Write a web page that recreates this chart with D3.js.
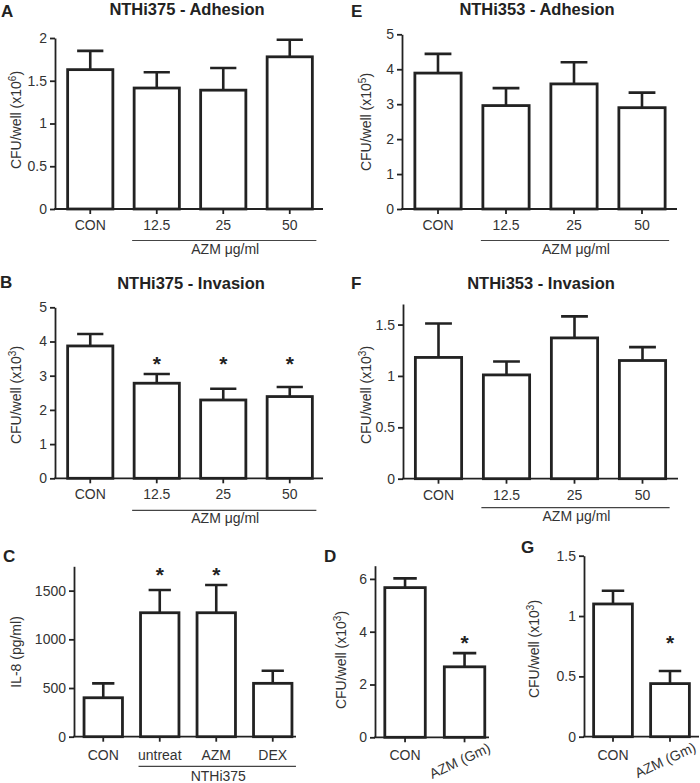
<!DOCTYPE html>
<html>
<head>
<meta charset="utf-8">
<script src="https://cdnjs.cloudflare.com/ajax/libs/d3/7.8.5/d3.min.js"></script>
<style>
  body { margin: 0; background: #fff; }
  svg text { font-family: "Liberation Sans", Arial, Helvetica, sans-serif; fill: #333; }
</style>
</head>
<body>
<div id="fig"></div>
<script>
// --- data (mean, and SEM as the upper error bar) ---
var doseCats = ["CON", "12.5", "25", "50"];
var adh375Mean = [1.63, 1.415, 1.39, 1.78];
var adh375Sem  = [0.22, 0.185, 0.26, 0.20];
var inv375Mean = [3.87, 2.78, 2.29, 2.39];
var inv375Sem  = [0.35, 0.27, 0.33, 0.28];
var inv375Sig  = [false, true, true, true];
var adh353Mean = [3.89, 2.96, 3.58, 2.90];
var adh353Sem  = [0.55, 0.50, 0.62, 0.43];
var inv353Mean = [1.18, 1.01, 1.37, 1.15];
var inv353Sem  = [0.33, 0.13, 0.21, 0.13];

var il8Cats = ["CON", "untreat", "AZM", "DEX"];
var il8Mean = [400, 1273, 1273, 548];
var il8Sem  = [148, 234, 285, 130];
var il8Sig  = [false, true, true, false];

var gmCats = ["CON", "AZM (Gm)"];
var gm375Mean = [5.67, 2.67];
var gm375Sem  = [0.35, 0.52];
var gm353Mean = [1.10, 0.44];
var gm353Sem  = [0.11, 0.105];
var gmSig = [false, true];

var ticks0to2 = [0, 0.5, 1, 1.5, 2];
var ticks0to5 = [0, 1, 2, 3, 4, 5];
var ticks0to15 = [0, 0.5, 1, 1.5];
var ticksIL8 = [0, 500, 1000, 1500];
var ticks0to6 = [0, 2, 4, 6];

var svg = d3.select("#fig")
    .append("svg")
      .attr("width", 700)
      .attr("height", 783);

var ink = "#222";
var fs = 14;

function panel(p) {
    var g = svg.append("g");
    var x = d3.scaleBand()
        .domain(p.cats)
        .range(p.band)
        .paddingInner(0.32)
        .paddingOuter(0.16);
    var y = d3.scaleLinear()
        .domain([0, p.max])
        .range([p.y0, p.yTop]);
    var bw = x.bandwidth();
    var rows = p.cats.map((c, i) => ({cat: c, mean: p.mean[i], sem: p.sem[i], sig: p.sig ? p.sig[i] : false}));

    // y axis
    var ya = g.append("g")
        .attr("transform", "translate(" + p.x0 + ",0)")
        .call(d3.axisLeft(y).tickValues(p.ticks).tickSize(5).tickSizeOuter(0)
              .tickPadding(3).tickFormat(d3.format("~g")));
    ya.attr("font-family", null);
    ya.selectAll("text").style("font-size", fs + "px");
    ya.selectAll("path, line").attr("stroke", ink).attr("stroke-width", 1.8);

    // x axis line + ticks
    g.append("line")
        .attr("x1", p.x0 - 0.9).attr("x2", p.x1)
        .attr("y1", p.y0).attr("y2", p.y0)
        .attr("stroke", ink).attr("stroke-width", 1.8);
    var xa = g.append("g")
        .attr("transform", "translate(0," + p.y0 + ")")
        .call(d3.axisBottom(x).tickSize(5).tickSizeOuter(0).tickPadding(p.xpad));
    xa.select(".domain").remove();
    xa.attr("font-family", null);
    xa.selectAll("text").style("font-size", fs + "px");
    xa.selectAll("line").attr("stroke", ink).attr("stroke-width", 1.8);
    if (p.rotate) {
        xa.selectAll(".tick text")
          .filter((d, i) => i == p.cats.length - 1)
          .attr("y", null).attr("dy", null)
          .attr("text-anchor", "end")
          .attr("transform", "translate(27,14) rotate(-25)");
    }

    // error bars (upper only), drawn under the bars
    g.selectAll(".err")
        .data(rows)
        .enter().append("path")
        .attr("class", "err")
        .attr("d", d => {
            var cx = x(d.cat) + bw / 2, yt = y(d.mean + d.sem), c = bw * 0.29;
            return "M" + cx + "," + y(d.mean) + "V" + yt + "M" + (cx - c) + "," + yt + "H" + (cx + c);
        })
        .attr("fill", "none")
        .attr("stroke", ink)
        .attr("stroke-width", 2.6);

    g.selectAll(".bar")
        .data(rows)
        .enter().append("rect")
        .attr("class", "bar")
        .attr("x", d => x(d.cat))
        .attr("y", d => y(d.mean))
        .attr("width", bw)
        .attr("height", d => p.y0 - y(d.mean))
        .attr("fill", "#fff")
        .attr("stroke", ink)
        .attr("stroke-width", 2.8);

    // significance stars on one level above the tallest starred bar
    var starred = rows.filter(d => d.sig);
    if (starred.length) {
        var sy = d3.min(starred, d => y(d.mean + d.sem)) - p.starGap;
        g.selectAll(".star")
            .data(starred)
            .enter().append("text")
            .attr("x", d => x(d.cat) + bw / 2)
            .attr("y", sy + 12)
            .attr("text-anchor", "middle")
            .style("font-size", "21px")
            .style("font-weight", "bold")
            .style("fill", "#222")
            .text("*");
    }

    // group bracket under treated columns
    if (p.bracket) {
        var first = p.cats[1], last = p.cats[p.cats.length - 1];
        var by = p.y0 + p.bOff;
        g.append("line")
            .attr("x1", x(first) - 2).attr("x2", x(last) + bw + 4)
            .attr("y1", by).attr("y2", by)
            .attr("stroke", "#444").attr("stroke-width", 1.2);
        g.append("text")
            .attr("x", (x(first) + x(last) + bw) / 2 + 2)
            .attr("y", by + p.bText)
            .attr("text-anchor", "middle")
            .style("font-size", fs + "px")
            .text(p.bracket);
    }

    // y label
    var yl = g.append("text")
        .attr("transform", "translate(" + p.ylx + "," + p.yly + ") rotate(-90)")
        .attr("text-anchor", "middle")
        .style("font-size", fs + "px");
    if (p.sup) {
        yl.append("tspan").text(p.ylab);
        yl.append("tspan").attr("dy", -5.5).style("font-size", "10px").text(p.sup);
        yl.append("tspan").attr("dy", 5.5).text(")");
    } else {
        yl.text(p.ylab);
    }

    if (p.title) {
        g.append("text")
            .attr("x", p.tx).attr("y", p.ty)
            .attr("text-anchor", "middle")
            .style("font-size", "16.5px")
            .style("font-weight", "bold")
            .style("fill", "#222")
            .text(p.title);
    }
    g.append("text")
        .attr("x", p.lx).attr("y", p.ly)
        .style("font-size", "17px")
        .style("font-weight", "bold")
        .style("fill", "#222")
        .text(p.letter);
}

panel({letter: "A", lx: 1, ly: 17, title: "NTHi375 - Adhesion", tx: 187, ty: 15,
       cats: doseCats, mean: adh375Mean, sem: adh375Sem,
       x0: 55, x1: 323, band: [57, 323], y0: 209, yTop: 38, max: 2, ticks: ticks0to2,
       xpad: 6, ylab: "CFU/well (x10", sup: "6", ylx: 21, yly: 120,
       bracket: "AZM \u03bcg/ml", bOff: 31.5, bText: 13});

panel({letter: "E", lx: 351, ly: 17, title: "NTHi353 - Adhesion", tx: 537, ty: 15,
       cats: doseCats, mean: adh353Mean, sem: adh353Sem,
       x0: 402, x1: 677, band: [404, 676], y0: 209, yTop: 34.3, max: 5, ticks: ticks0to5,
       xpad: 6, ylab: "CFU/well (x10", sup: "5", ylx: 371, yly: 122,
       bracket: "AZM \u03bcg/ml", bOff: 31.5, bText: 13});

panel({letter: "B", lx: 0, ly: 288, title: "NTHi375 - Invasion", tx: 191, ty: 289,
       cats: doseCats, mean: inv375Mean, sem: inv375Sem, sig: inv375Sig, starGap: 15,
       x0: 55, x1: 323, band: [57, 323], y0: 478.3, yTop: 307.3, max: 5, ticks: ticks0to5,
       xpad: 6, ylab: "CFU/well (x10", sup: "3", ylx: 21, yly: 395,
       bracket: "AZM \u03bcg/ml", bOff: 32, bText: 13});

panel({letter: "F", lx: 351, ly: 289, title: "NTHi353 - Invasion", tx: 541, ty: 289,
       cats: doseCats, mean: inv353Mean, sem: inv353Sem,
       x0: 403, x1: 678, band: [404.5, 676.5], y0: 478.7, yTop: 304, max: 1.7, ticks: ticks0to15,
       xpad: 6, ylab: "CFU/well (x10", sup: "3", ylx: 371, yly: 395,
       bracket: "AZM \u03bcg/ml", bOff: 29, bText: 13});

panel({letter: "C", lx: 3, ly: 562, title: null,
       cats: il8Cats, mean: il8Mean, sem: il8Sem, sig: il8Sig, starGap: 15,
       x0: 74, x1: 296, band: [75, 301], y0: 736.7, yTop: 566.3, max: 1750, ticks: ticksIL8,
       xpad: 8, ylab: "IL-8 (pg/ml)", ylx: 21, yly: 652,
       bracket: "NTHi375", bOff: 29.6, bText: 15});

panel({letter: "D", lx: 324, ly: 562, title: null,
       cats: gmCats, mean: gm375Mean, sem: gm375Sem, sig: gmSig, starGap: 15,
       x0: 375, x1: 489, band: [375.3, 494.3], y0: 737.3, yTop: 565.7, max: 6.5, ticks: ticks0to6,
       xpad: 8, ylab: "CFU/well (x10", sup: "3", ylx: 346, yly: 660, rotate: true});

panel({letter: "G", lx: 521, ly: 553, title: null,
       cats: gmCats, mean: gm353Mean, sem: gm353Sem, sig: gmSig, starGap: 33,
       x0: 584, x1: 699, band: [584.5, 698.5], y0: 736.7, yTop: 555.7, max: 1.5, ticks: ticks0to15,
       xpad: 8, ylab: "CFU/well (x10", sup: "3", ylx: 539, yly: 649, rotate: true});
</script>
</body>
</html>
